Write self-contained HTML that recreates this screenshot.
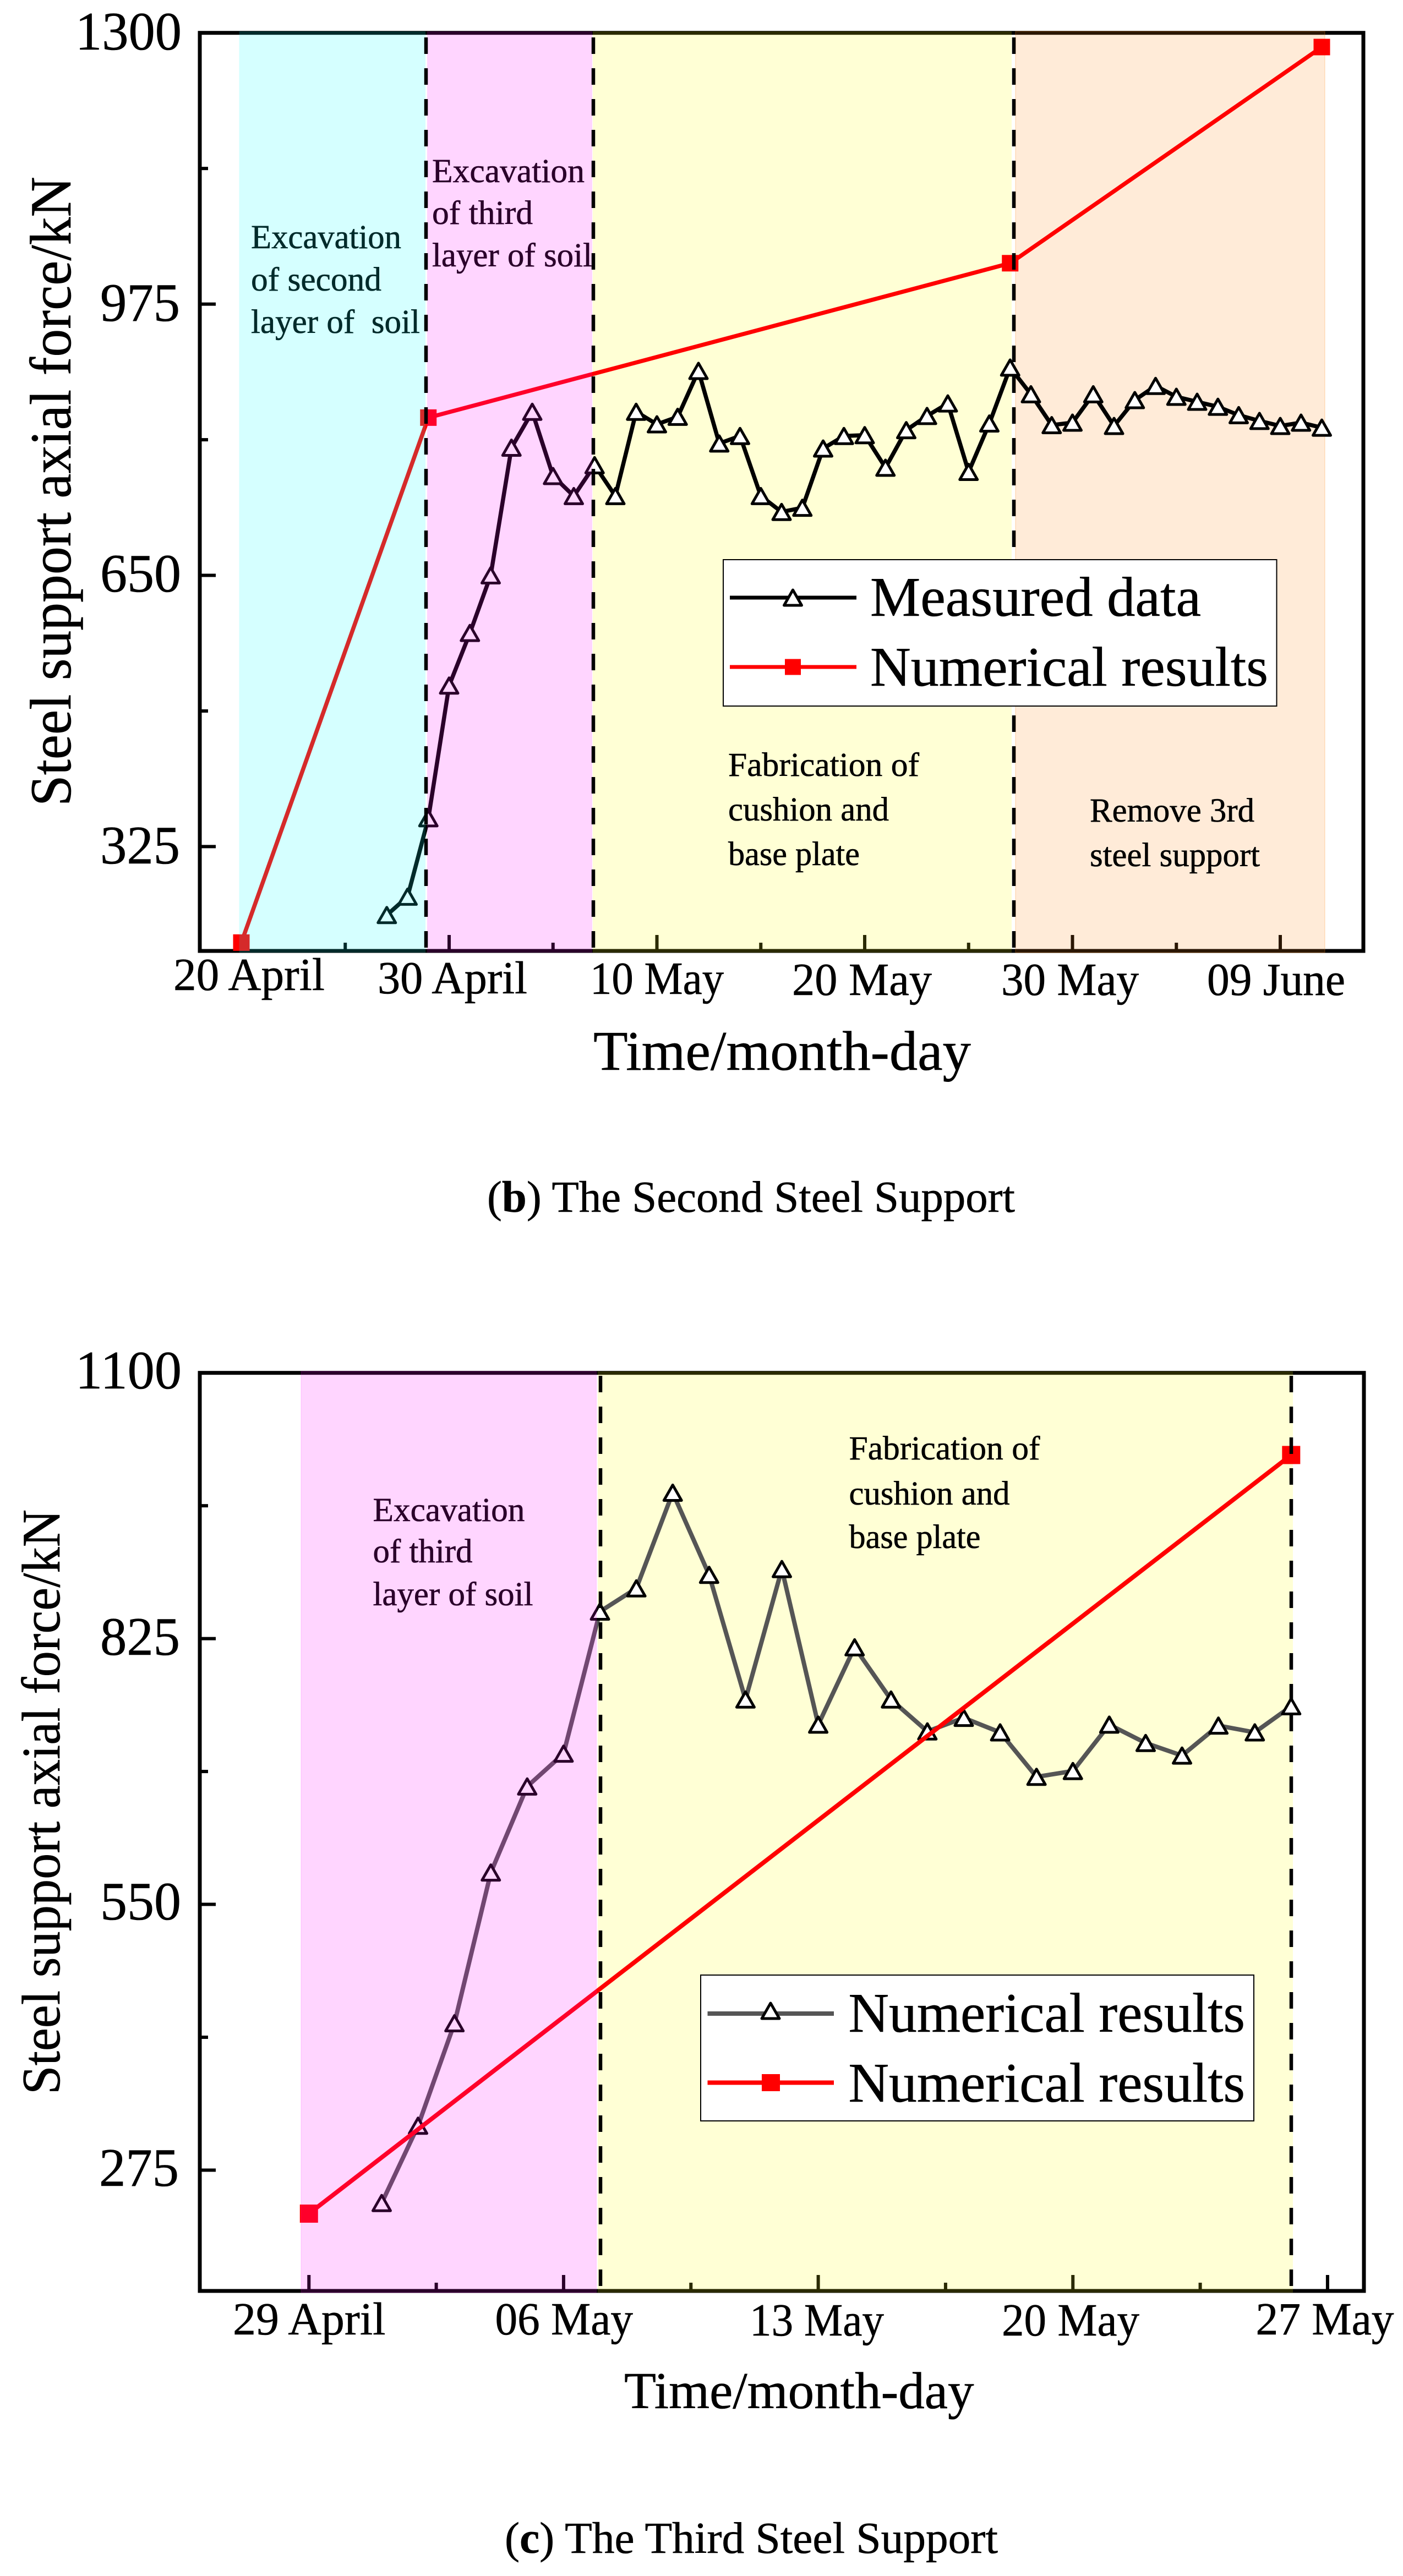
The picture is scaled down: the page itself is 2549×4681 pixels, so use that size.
<!DOCTYPE html>
<html lang="en">
<head>
<meta charset="utf-8">
<title>Steel support axial force charts</title>
<style>
html,body{margin:0;padding:0;background:#fff;}
svg{display:block;}
text{font-family:"Liberation Serif","Times New Roman",serif;fill:#000;stroke:#000;stroke-width:0.6;}
</style>
</head>
<body>
<svg xmlns="http://www.w3.org/2000/svg" width="2549" height="4681" viewBox="0 0 2549 4681">
<rect x="0" y="0" width="2549" height="4681" fill="#fff"/>

<!-- ===== Chart B ===== -->
<g id="chart-b">
  <g id="axes-b"></g>
  <rect x="1077" y="57" width="761" height="1674" fill="rgb(255,255,0)" fill-opacity="0.165"/>
  <rect x="1845" y="57" width="562" height="1674" fill="rgb(255,135,20)" fill-opacity="0.165" stroke="rgb(255,135,20)" stroke-opacity="0.165" stroke-width="2"/>

  <g font-size="61">
    <text x="456" y="451" textLength="273" lengthAdjust="spacingAndGlyphs">Excavation</text>
    <text x="456" y="528" textLength="237" lengthAdjust="spacingAndGlyphs">of second</text>
    <text x="456" y="605" textLength="307" lengthAdjust="spacingAndGlyphs" xml:space="preserve">layer of  soil</text>
  </g>
  <g font-size="61">
    <text x="785" y="331" textLength="277" lengthAdjust="spacingAndGlyphs">Excavation</text>
    <text x="785" y="407" textLength="183" lengthAdjust="spacingAndGlyphs">of third</text>
    <text x="785" y="484" textLength="291" lengthAdjust="spacingAndGlyphs">layer of soil</text>
  </g>
  <g font-size="61">
    <text x="1323" y="1410" textLength="347" lengthAdjust="spacingAndGlyphs">Fabrication of</text>
    <text x="1323" y="1491" textLength="292" lengthAdjust="spacingAndGlyphs">cushion and</text>
    <text x="1323" y="1572" textLength="239" lengthAdjust="spacingAndGlyphs">base plate</text>
  </g>
  <g font-size="61">
    <text x="1980" y="1493" textLength="299" lengthAdjust="spacingAndGlyphs">Remove 3rd</text>
    <text x="1980" y="1574" textLength="309" lengthAdjust="spacingAndGlyphs">steel support</text>
  </g>

  <g id="series-b"></g>

  <rect x="434.5" y="57" width="338.5" height="1674" fill="rgb(0,255,255)" fill-opacity="0.165"/>
  <rect x="776" y="57" width="300" height="1674" fill="rgb(255,0,255)" fill-opacity="0.165"/>

  <g stroke="#000" stroke-width="6.5" stroke-dasharray="30 26" fill="none">
    <line x1="774" y1="68" x2="774" y2="1728"/>
    <line x1="1078" y1="68" x2="1078" y2="1728"/>
    <line x1="1842" y1="68" x2="1842" y2="1728"/>
  </g>

  <g font-size="99">
    <text x="137" y="90" textLength="193" lengthAdjust="spacingAndGlyphs">1300</text>
    <text x="182" y="583" textLength="145" lengthAdjust="spacingAndGlyphs">975</text>
    <text x="182" y="1075" textLength="147" lengthAdjust="spacingAndGlyphs">650</text>
    <text x="182" y="1569" textLength="145" lengthAdjust="spacingAndGlyphs">325</text>
  </g>
  <g font-size="84">
    <text x="315" y="1799" textLength="275" lengthAdjust="spacingAndGlyphs">20 April</text>
    <text x="686" y="1805" textLength="272" lengthAdjust="spacingAndGlyphs">30 April</text>
    <text x="1072" y="1806" textLength="243" lengthAdjust="spacingAndGlyphs">10 May</text>
    <text x="1439" y="1808" textLength="254" lengthAdjust="spacingAndGlyphs">20 May</text>
    <text x="1819" y="1808" textLength="250" lengthAdjust="spacingAndGlyphs">30 May</text>
    <text x="2193" y="1808" textLength="251" lengthAdjust="spacingAndGlyphs">09 June</text>
  </g>
  <text transform="translate(128,1465) rotate(-90)" font-size="106" textLength="1144" lengthAdjust="spacingAndGlyphs">Steel support axial force/kN</text>
  <text x="1078" y="1944" font-size="102" textLength="686" lengthAdjust="spacingAndGlyphs">Time/month-day</text>

  <g>
    <rect x="1314" y="1017" width="1005.5" height="266" fill="#fff" stroke="#000" stroke-width="2"/>
    <g>
      <line x1="1326" y1="1086" x2="1556" y2="1086" stroke="#000" stroke-width="7"/>
      <polygon points="1440.5,1072 1456.5,1100 1424.5,1100" fill="#fff" stroke="#000" stroke-width="5" stroke-linejoin="round"/>
      <text x="1581" y="1119" font-size="102" textLength="601" lengthAdjust="spacingAndGlyphs">Measured data</text>
    </g>
    <g>
      <line x1="1326" y1="1212" x2="1556" y2="1212" stroke="#f00" stroke-width="7"/>
      <rect x="1426" y="1197.5" width="29" height="29" fill="#f00"/>
      <text x="1581" y="1246" font-size="102" textLength="723" lengthAdjust="spacingAndGlyphs">Numerical results</text>
    </g>
  </g>
  <text x="885" y="2202" font-size="80" textLength="959" lengthAdjust="spacingAndGlyphs">(<tspan font-weight="bold">b</tspan>) The Second Steel Support</text>
</g>

<!-- ===== Chart C ===== -->
<g id="chart-c">
  <g id="axes-c"></g>
  <rect x="1086" y="2492" width="1263" height="1674" fill="rgb(255,255,0)" fill-opacity="0.165"/>

  <g font-size="61">
    <text x="677.5" y="2764" textLength="276" lengthAdjust="spacingAndGlyphs">Excavation</text>
    <text x="677.5" y="2839" textLength="181" lengthAdjust="spacingAndGlyphs">of third</text>
    <text x="677.5" y="2917" textLength="291" lengthAdjust="spacingAndGlyphs">layer of soil</text>
  </g>
  <g font-size="61">
    <text x="1542.5" y="2652" textLength="347" lengthAdjust="spacingAndGlyphs">Fabrication of</text>
    <text x="1542.5" y="2734" textLength="292" lengthAdjust="spacingAndGlyphs">cushion and</text>
    <text x="1542.5" y="2813" textLength="239" lengthAdjust="spacingAndGlyphs">base plate</text>
  </g>

  <g id="series-c"></g>

  <rect x="547" y="2492" width="536.5" height="1674" fill="rgb(255,0,255)" fill-opacity="0.165" stroke="rgb(255,0,255)" stroke-opacity="0.12" stroke-width="1.5"/>

  <g stroke="#000" stroke-width="6.5" stroke-dasharray="30 26" fill="none">
    <line x1="1091" y1="2500" x2="1091" y2="4163"/>
    <line x1="2346" y1="2500" x2="2346" y2="4163"/>
  </g>

  <g font-size="99">
    <text x="137" y="2523" textLength="193" lengthAdjust="spacingAndGlyphs">1100</text>
    <text x="182" y="3007" textLength="145" lengthAdjust="spacingAndGlyphs">825</text>
    <text x="182" y="3488" textLength="147" lengthAdjust="spacingAndGlyphs">550</text>
    <text x="180" y="3972" textLength="145" lengthAdjust="spacingAndGlyphs">275</text>
  </g>
  <g font-size="84">
    <text x="423" y="4242" textLength="277.5" lengthAdjust="spacingAndGlyphs">29 April</text>
    <text x="899.5" y="4242" textLength="250.5" lengthAdjust="spacingAndGlyphs">06 May</text>
    <text x="1362" y="4244" textLength="244" lengthAdjust="spacingAndGlyphs">13 May</text>
    <text x="1820" y="4244" textLength="250" lengthAdjust="spacingAndGlyphs">20 May</text>
    <text x="2281.5" y="4242" textLength="251" lengthAdjust="spacingAndGlyphs">27 May</text>
  </g>
  <text transform="translate(108,3806) rotate(-90)" font-size="99" textLength="1063" lengthAdjust="spacingAndGlyphs">Steel support axial force/kN</text>
  <text x="1134" y="4376" font-size="94.5" textLength="635.5" lengthAdjust="spacingAndGlyphs">Time/month-day</text>

  <g>
    <rect x="1273" y="3589" width="1005" height="265" fill="#fff" stroke="#000" stroke-width="2"/>
    <g>
      <line x1="1285.5" y1="3659" x2="1515" y2="3659" stroke="#555" stroke-width="8"/>
      <polygon points="1400,3640 1416,3668 1384,3668" fill="#fff" stroke="#000" stroke-width="5" stroke-linejoin="round"/>
      <text x="1541.5" y="3692" font-size="102" textLength="720.5" lengthAdjust="spacingAndGlyphs">Numerical results</text>
    </g>
    <g>
      <line x1="1285.5" y1="3784.5" x2="1515" y2="3784.5" stroke="#f00" stroke-width="8"/>
      <rect x="1384" y="3769" width="33" height="31" fill="#f00"/>
      <text x="1541.5" y="3819" font-size="102" textLength="720.5" lengthAdjust="spacingAndGlyphs">Numerical results</text>
    </g>
  </g>
  <text x="917" y="4639" font-size="80" textLength="896" lengthAdjust="spacingAndGlyphs">(<tspan font-weight="bold">c</tspan>) The Third Steel Support</text>
</g>
</svg>

<script>
// ---- Second steel support: x values are days after 20 April ----
const measuredDaysB = [7,8,9,10,11,12,13,14,15,16,17,18,19,20,21,22,23,24,25,26,27,28,29,30,31,32,33,34,35,36,37,38,39,40,41,42,43,44,45,46,47,48,49,50,51,52];
const measuredForceB = [243,265,359,518,581,650,803,846,769,745,782,745,846,831,840,895,808,817,745,726,731,802,817,818,779,824,841,856,774,832,899,867,830,833,867,829,860,877,864,858,852,842,835,829,833,827];
const numericalDaysB = [0,9,37,52];
const numericalForceB = [210,839,1024,1283];
const yMajorTicksB = [1300,975,650,325];
const yMinorTicksB = [1137.5,812.5,487.5];
const xMajorTicksB = [0,10,20,30,40,50];
const xMinorTicksB = [5,15,25,35,45];

// ---- Third steel support: x values are days after 29 April ----
const measuredDaysC = [2,3,4,5,6,7,8,9,10,11,12,13,14,15,16,17,18,19,20,21,22,23,24,25,26,27];
const measuredForceC = [241,321,427,583,672,706,853,877,976,891,762,897,736,816,762,729,743,728,682,688,736,717,704,735,728,755];
const numericalDaysC = [0,27];
const numericalForceC = [230,1015];
const yMajorTicksC = [1100,825,550,275];
const yMinorTicksC = [962.5,687.5,412.5];
const xMajorTicksC = [0,7,14,21,28];
const xMinorTicksC = [3.5,10.5,17.5,24.5];

const SVG_NS = 'http://www.w3.org/2000/svg';

function mk(tag, attrs, parent) {
  const el = document.createElementNS(SVG_NS, tag);
  for (const k in attrs) el.setAttribute(k, attrs[k]);
  parent.appendChild(el);
  return el;
}

function linear(d0, d1, r0, r1) {
  return function (v) { return r0 + (v - d0) * (r1 - r0) / (d1 - d0); };
}

function drawAxes(group, box, x, y, xMajor, xMinor, yMajor, yMinor) {
  const frame = mk('rect', {x: box.left, y: box.top, width: box.right - box.left, height: box.bottom - box.top, fill: 'none', stroke: '#000', 'stroke-width': 7}, group);
  
  
  xMajor.forEach(function (d) {
    const t = mk('line', {x1: x(d), x2: x(d), y1: box.bottom, y2: box.bottom - 29, stroke: '#000', 'stroke-width': 6}, group);
    
    
  });
  xMinor.forEach(function (d) {
    const t = mk('line', {x1: x(d), x2: x(d), y1: box.bottom, y2: box.bottom - 15, stroke: '#000', 'stroke-width': 6}, group);
    
    
  });
  yMajor.forEach(function (v) {
    const t = mk('line', {x1: box.left, x2: box.left + 29, y1: y(v), y2: y(v), stroke: '#000', 'stroke-width': 6}, group);
    
    
  });
  yMinor.forEach(function (v) {
    const t = mk('line', {x1: box.left, x2: box.left + 15, y1: y(v), y2: y(v), stroke: '#000', 'stroke-width': 6}, group);
    
    
  });
}

function pointsOf(days, values, x, y) {
  return days.map(function (d, i) { return x(d).toFixed(1) + ',' + y(values[i]).toFixed(1); }).join(' ');
}

function drawMeasured(group, days, values, x, y, color, width) {
  const line = mk('polyline', {points: pointsOf(days, values, x, y), fill: 'none', stroke: color, 'stroke-width': width, 'stroke-linejoin': 'round'}, group);
  
  
  days.forEach(function (d, i) {
    const cx = x(d), cy = y(values[i]);
    const pts = cx + ',' + (cy - 14) + ' ' + (cx + 16) + ',' + (cy + 14) + ' ' + (cx - 16) + ',' + (cy + 14);
    const m = mk('polygon', {points: pts, fill: '#fff', stroke: '#000', 'stroke-width': 5, 'stroke-linejoin': 'round'}, group);
    
    
  });
}

function drawNumerical(group, days, values, x, y, width, sq) {
  const line = mk('polyline', {points: pointsOf(days, values, x, y), fill: 'none', stroke: '#f00', 'stroke-width': width, 'stroke-linejoin': 'round'}, group);
  
  
  days.forEach(function (d, i) {
    const m = mk('rect', {x: x(d) - sq / 2, y: y(values[i]) - sq / 2, width: sq, height: sq, fill: '#f00'}, group);
    
    
  });
}

const boxB = {left: 363, right: 2477, top: 59.7, bottom: 1728};
const xB = linear(-2, 54, boxB.left, boxB.right);
const yB = linear(200, 1300, boxB.bottom, boxB.top);
drawAxes(document.getElementById('axes-b'), boxB, xB, yB, xMajorTicksB, xMinorTicksB, yMajorTicksB, yMinorTicksB);
drawNumerical(document.getElementById('series-b'), numericalDaysB, numericalForceB, xB, yB, 7.5, 30);
drawMeasured(document.getElementById('series-b'), measuredDaysB, measuredForceB, xB, yB, '#000', 7.5);

const boxC = {left: 363, right: 2478, top: 2494.7, bottom: 4163};
const xC = linear(-3, 29, boxC.left, boxC.right);
const yC = linear(150, 1100, boxC.bottom, boxC.top);
drawAxes(document.getElementById('axes-c'), boxC, xC, yC, xMajorTicksC, xMinorTicksC, yMajorTicksC, yMinorTicksC);
drawMeasured(document.getElementById('series-c'), measuredDaysC, measuredForceC, xC, yC, '#555', 8);
drawNumerical(document.getElementById('series-c'), numericalDaysC, numericalForceC, xC, yC, 8, 33);
</script>
</body>
</html>
